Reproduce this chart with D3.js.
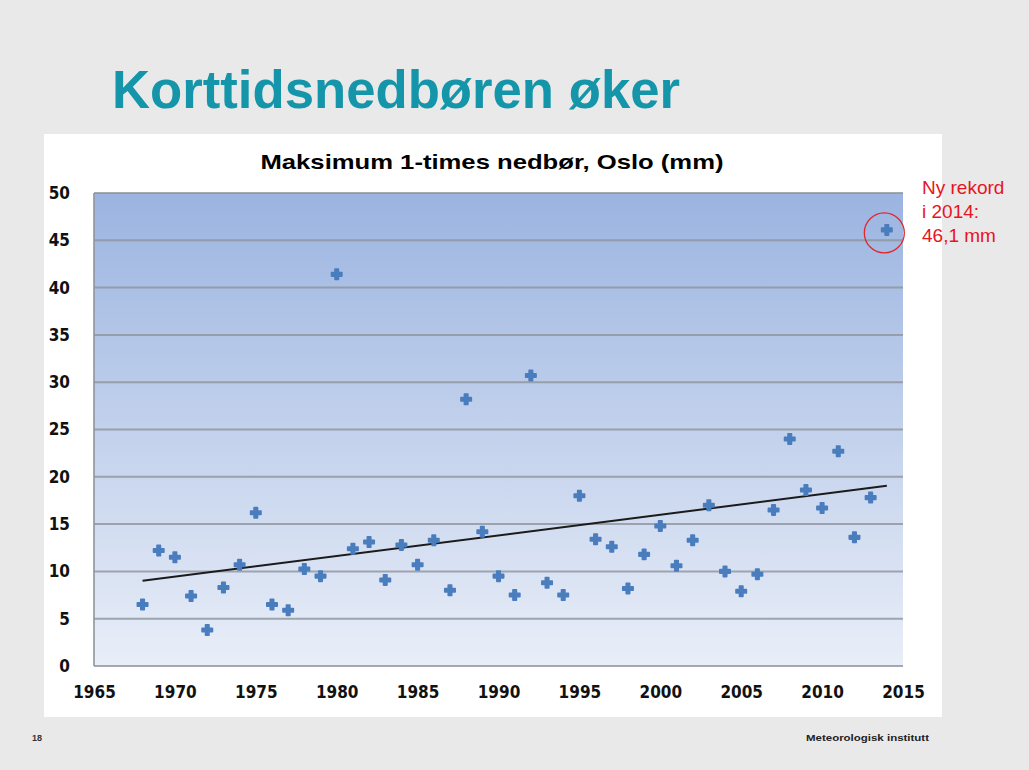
<!DOCTYPE html>
<html>
<head>
<meta charset="utf-8">
<script src="https://cdn.jsdelivr.net/npm/d3@7"></script>
<style>
  html, body { margin: 0; padding: 0; background: #e9e9e9; }
  svg { display: block; }
</style>
</head>
<body>
<svg id="chart" width="1029" height="770"></svg>
<script>
// ---- data ----
const years = [1968,1969,1970,1971,1972,1973,1974,1975,1976,1977,1978,1979,1980,1981,1982,1983,1984,1985,1986,1987,1988,1989,1990,1991,1992,1993,1994,1995,1996,1997,1998,1999,2000,2001,2002,2003,2004,2005,2006,2007,2008,2009,2010,2011,2012,2013,2014];
const maxPrecip = [6.5,12.2,11.5,7.4,3.8,8.3,10.7,16.2,6.5,5.9,10.25,9.5,41.4,12.4,13.1,9.1,12.8,10.7,13.3,8.0,28.2,14.2,9.5,7.5,30.7,8.8,7.5,18.0,13.4,12.6,8.2,11.8,14.8,10.6,13.3,17.0,10.0,7.9,9.7,16.5,24.0,18.6,16.7,22.7,13.6,17.8,46.1];
const xTicks = [1965,1970,1975,1980,1985,1990,1995,2000,2005,2010,2015];
const yTicks = [0,5,10,15,20,25,30,35,40,45,50];
const slideTitle = "Korttidsnedbøren øker";
const chartTitle = "Maksimum 1-times nedbør, Oslo (mm)";
const recordNote = ["Ny rekord", "i 2014:", "46,1 mm"];
const recordYear = 2014;
const footerLeft = "18";
const footerRight = "Meteorologisk institutt";

// ---- layout ----
const svg = d3.select("#chart");
const plot = {left: 94, right: 903, top: 193, bottom: 666};

const x = d3.scaleLinear().domain([1965, 2015]).range([plot.left, plot.right]);
const y = d3.scaleLinear().domain([0, 50]).range([plot.bottom, plot.top]);

// background
svg.append("rect").attr("width", 1029).attr("height", 770).attr("fill", "#e9e9e9");

// slide title
svg.append("text")
  .attr("x", 112).attr("y", 108)
  .attr("font-family", "'Liberation Sans Narrow', 'Liberation Sans', Arial, sans-serif")
  .attr("font-weight", "bold")
  .attr("font-size", 53)
  .attr("fill", "#1595a9")
  .attr("textLength", 568).attr("lengthAdjust", "spacingAndGlyphs")
  .text(slideTitle);

// white chart panel
svg.append("rect").attr("x", 44).attr("y", 134).attr("width", 898).attr("height", 583).attr("fill", "#ffffff");

// plot gradient
const defs = svg.append("defs");
const grad = defs.append("linearGradient").attr("id", "bg").attr("x1", 0).attr("y1", 0).attr("x2", 0).attr("y2", 1);
grad.append("stop").attr("offset", "0%").attr("stop-color", "#9bb4e0");
grad.append("stop").attr("offset", "100%").attr("stop-color", "#e9eef8");
svg.append("rect")
  .attr("x", plot.left).attr("y", plot.top)
  .attr("width", plot.right - plot.left).attr("height", plot.bottom - plot.top)
  .attr("fill", "url(#bg)");

// gridlines
svg.append("g").selectAll("line").data(yTicks).join("line")
  .attr("x1", plot.left).attr("x2", plot.right)
  .attr("y1", d => y(d)).attr("y2", d => y(d))
  .attr("stroke", "#8f949c").attr("stroke-opacity", 0.8).attr("stroke-width", 2);

// left axis line
svg.append("line").attr("x1", plot.left).attr("x2", plot.left).attr("y1", plot.top).attr("y2", plot.bottom)
  .attr("stroke", "#8f949c").attr("stroke-opacity", 0.8).attr("stroke-width", 2);

// axes (labels)
const axisFont = "'DejaVu Sans Condensed', 'DejaVu Sans', sans-serif";
const yAxis = svg.append("g").attr("transform", `translate(${plot.left},0)`)
  .call(d3.axisLeft(y).tickValues(yTicks).tickSize(0).tickPadding(24).tickFormat(d3.format("d")));
yAxis.select(".domain").remove();
yAxis.selectAll("text").attr("font-family", axisFont).attr("font-weight", "bold").attr("font-size", 17).attr("fill", "#111");

const xAxis = svg.append("g").attr("transform", `translate(0,${plot.bottom})`)
  .call(d3.axisBottom(x).tickValues(xTicks).tickSize(0).tickPadding(20).tickFormat(d3.format("d")));
xAxis.select(".domain").remove();
xAxis.selectAll("text").attr("font-family", axisFont).attr("font-weight", "bold").attr("font-size", 17).attr("fill", "#111");

// chart title
svg.append("text")
  .attr("x", 492).attr("y", 169)
  .attr("text-anchor", "middle")
  .attr("font-family", "'Liberation Sans', Arial, sans-serif")
  .attr("font-weight", "bold").attr("font-size", 21)
  .attr("fill", "#000")
  .attr("textLength", 463).attr("lengthAdjust", "spacingAndGlyphs")
  .text(chartTitle);

// trendline (least squares)
const mx = d3.mean(years), my = d3.mean(maxPrecip);
const slope = d3.sum(years, (yr, i) => (yr - mx) * (maxPrecip[i] - my)) / d3.sum(years, yr => (yr - mx) ** 2);
const intercept = my - slope * mx;
const trendX = d3.extent(years);
svg.append("path")
  .datum(trendX)
  .attr("d", d3.line().x(d => x(d)).y(d => y(intercept + slope * d)))
  .attr("stroke", "#1b1b1b").attr("stroke-width", 2).attr("fill", "none");

// points
svg.append("g").selectAll("path").data(years).join("path")
  .attr("transform", (d, i) => `translate(${x(d)},${y(maxPrecip[i])})`)
  .attr("d", d3.symbol().type(d3.symbolCross).size(60))
  .attr("fill", "#4a7dbd")
  .attr("stroke", "#4a7dbd").attr("stroke-width", 1.6).attr("stroke-linejoin", "round");

// record annotation
const ri = years.indexOf(recordYear);
svg.append("circle")
  .attr("cx", x(recordYear) - 2.5).attr("cy", y(maxPrecip[ri]) + 3).attr("r", 20)
  .attr("fill", "none").attr("stroke", "#e3262b").attr("stroke-width", 1.3);
svg.append("g").selectAll("text").data(recordNote).join("text")
  .attr("x", 922).attr("y", (d, i) => 194 + i * 24)
  .attr("font-family", "'Liberation Sans', Arial, sans-serif")
  .attr("font-size", 19).attr("fill", "#e8141e")
  .text(d => d);

// footer
svg.append("text").attr("x", 32).attr("y", 741)
  .attr("font-family", "'Liberation Sans', Arial, sans-serif").attr("font-weight", "bold")
  .attr("font-size", 9).attr("fill", "#333").text(footerLeft);
svg.append("text").attr("x", 806).attr("y", 741)
  .attr("font-family", "'Liberation Sans', Arial, sans-serif").attr("font-weight", "bold")
  .attr("font-size", 9.5).attr("fill", "#222")
  .attr("textLength", 123).attr("lengthAdjust", "spacingAndGlyphs")
  .text(footerRight);
</script>
</body>
</html>
